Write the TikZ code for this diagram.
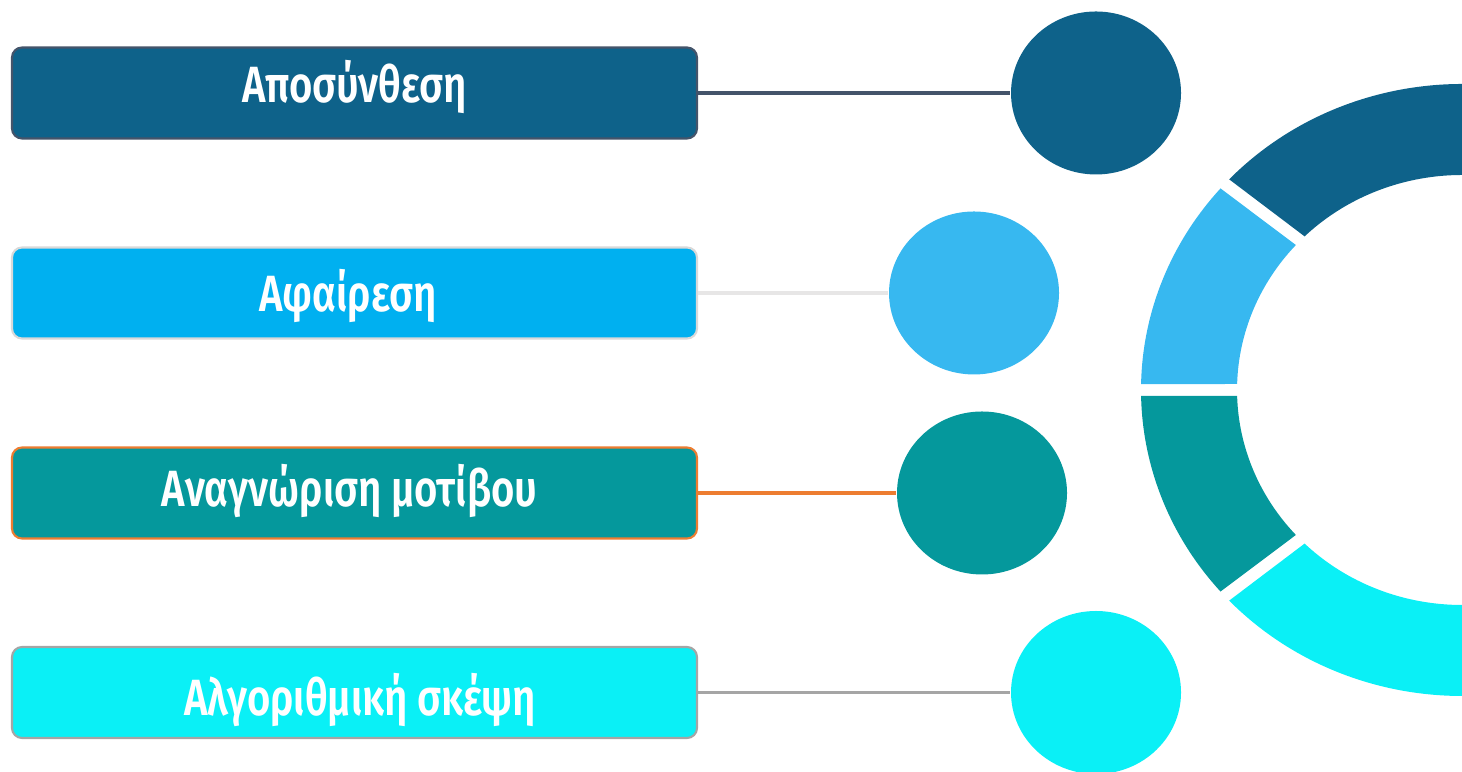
\documentclass[tikz,border=0pt]{standalone}
\usepackage{fontspec}
\newfontfamily\lbl{Fira Sans SemiBold}[FakeStretch=0.785]
\usetikzlibrary{calc,shapes.geometric}
\definecolor{cdark}{HTML}{0E628A}
\definecolor{cdarkline}{HTML}{44546A}
\definecolor{cblue}{HTML}{00B0F0}
\definecolor{cbluec}{HTML}{37B8F0}
\definecolor{cblueline}{HTML}{E7E6E6}
\definecolor{cblueborder}{HTML}{D9D9D9}
\definecolor{cteal}{HTML}{05989C}
\definecolor{corange}{HTML}{ED7D31}
\definecolor{ccyan}{HTML}{0AF0F6}
\definecolor{cgray}{HTML}{A5A5A5}
\tikzset{
  labelbox/.style={rectangle, rounded corners=0.1cm, minimum width=6.85cm, minimum height=0.91cm, inner sep=0pt, line width=0.6pt},
  labeltext/.style={anchor=base, inner sep=0pt, text=white, font=\lbl\fontsize{14.5}{16}\selectfont},
  dot/.style={ellipse, minimum width=1.70cm, minimum height=1.63cm, inner sep=0pt},
  link/.style={line width=0.9pt}
}
\begin{document}
\begin{tikzpicture}
\useasboundingbox (0,0) rectangle (14.62,7.72);
\clip (0,0) rectangle (14.62,7.72);
% ring
\coordinate (C) at (14.62,3.82);
\fill[cdark] ($(C)+(60:3.21 and 3.06)$) arc[start angle=60,end angle=136.5,x radius=3.21,y radius=3.06]
  -- ($(C)+(134.4:2.25 and 2.15)$) arc[start angle=134.4,end angle=60,x radius=2.25,y radius=2.15] -- cycle;
\fill[cbluec] ($(C)+(138.8:3.21 and 3.06)$) arc[start angle=138.8,end angle=178.9,x radius=3.21,y radius=3.06]
  -- ($(C)+(178.4:2.25 and 2.15)$) arc[start angle=178.4,end angle=137.6,x radius=2.25,y radius=2.15] -- cycle;
\fill[cteal] ($(C)+(181.1:3.21 and 3.06)$) arc[start angle=181.1,end angle=221.2,x radius=3.21,y radius=3.06]
  -- ($(C)+(222.4:2.25 and 2.15)$) arc[start angle=222.4,end angle=181.6,x radius=2.25,y radius=2.15] -- cycle;
\fill[ccyan] ($(C)+(223.5:3.21 and 3.06)$) arc[start angle=223.5,end angle=300,x radius=3.21,y radius=3.06]
  -- ($(C)+(300:2.25 and 2.15)$) arc[start angle=300,end angle=225.6,x radius=2.25,y radius=2.15] -- cycle;
% boxes
\node[labelbox, fill=cdark, draw=cdarkline] (b1) at (3.545,6.79) {};
\node[labelbox, fill=cblue, draw=cblueborder] (b2) at (3.545,4.79) {};
\node[labelbox, fill=cteal, draw=corange] (b3) at (3.545,2.79) {};
\node[labelbox, fill=ccyan, draw=cgray] (b4) at (3.545,0.795) {};
\node[labeltext] (t1) at (3.545,6.69) {Αποσύνθεση};
\node[labeltext] (t2) at (3.48,4.60) {Αφαίρεση};
\node[labeltext] (t3) at (3.495,2.65) {Αναγνώριση μοτίβου};
\node[labeltext] (t4) at (3.60,0.56) {Αλγοριθμική σκέψη};
% circles
\node[dot, fill=cdark] (c1) at (10.96,6.79) {};
\node[dot, fill=cbluec] (c2) at (9.74,4.79) {};
\node[dot, fill=cteal] (c3) at (9.82,2.79) {};
\node[dot, fill=ccyan] (c4) at (10.96,0.795) {};
% connectors
\draw[link, cdarkline] (b1.east) -- (c1.west);
\draw[link, cblueline, line width=1.1pt] (b2.east) -- (c2.west);
\draw[link, corange] (b3.east) -- (c3.west);
\draw[link, cgray] (b4.east) -- (c4.west);
\end{tikzpicture}
\end{document}
